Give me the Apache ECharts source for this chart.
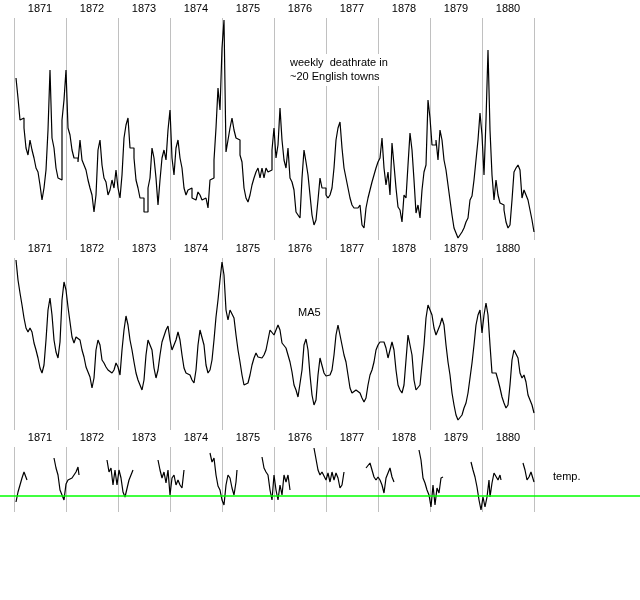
<!DOCTYPE html>
<html>
<head>
<meta charset="utf-8">
<script src="https://cdn.jsdelivr.net/npm/echarts@6/dist/echarts.min.js"></script>
<style>
	body{ margin: 0; background: #fff; }
	#chart_box{ width: 640px; height: 600px; }
</style>
</head>
<body>
<div id="chart_box"></div>
<script type="text/javascript">
var years = ['1871', '1872', '1873', '1874', '1875', '1876', '1877', '1878', '1879', '1880'];

// weekly deathrate, one value every 2 weeks from week 2 of 1871
var deathrate = [
	33.2,31.2,29.0,29.2,28.2,26.2,25.5,27.0,26.0,25.2,24.2,23.8,22.5,21.0,22.2,24.0,28.0,34.0,27.2,26.2,24.2,23.2,23.0,29.0,31.0,34.0,
	28.2,27.5,26.0,25.2,25.2,24.8,27.0,25.0,24.5,24.0,23.0,22.2,21.5,19.8,21.5,26.0,27.0,24.5,23.2,22.8,21.5,22.0,23.0,22.2,24.0,22.2,
	21.2,23.5,27.2,28.5,29.2,26.2,26.2,25.2,23.0,22.2,21.2,21.2,19.8,19.8,22.2,23.2,26.2,25.2,23.2,20.5,23.0,25.2,26.0,25.0,28.0,30.0,
	25.2,23.5,26.2,27.0,25.2,24.2,22.2,21.5,22.0,22.2,21.2,21.0,
	21.0,21.8,21.5,21.0,21.2,21.0,20.2,23.0,23.2,25.0,28.2,32.2,30.0,36.2,39.0,25.8,27.0,28.2,29.2,28.0,
	27.2,27.0,25.5,24.8,22.2,21.2,20.8,21.5,22.5,23.2,23.8,24.2,23.2,24.2,23.2,24.2,23.8,24.0,26.0,28.2,
	25.2,26.5,30.2,27.0,25.0,24.2,26.2,23.2,22.8,22.0,19.8,19.5,19.2,23.2,26.0,24.8,23.5,21.5,19.5,18.5,
	19.0,21.0,23.2,22.2,22.2,21.5,21.2,21.5,22.2,24.2,27.0,28.2,28.8,26.2,24.2,23.2,22.2,21.2,20.5,20.2,
	20.2,20.2,20.5,18.5,18.2,20.2,21.2,22.0,22.8,23.5,24.2,24.8,25.2,27.2,24.2,22.5,
	23.8,21.5,26.7,24.5,22.2,20.3,20.0,18.8,21.5,21.2,24.5,27.7,26.0,23.0,19.7,20.5,19.2,22.0,23.8,24.5,
	31.0,29.2,26.5,26.5,27.0,25.0,28.0,27.0,25.0,24.0,22.5,21.0,19.5,18.2,17.7,17.2,17.5,17.8,18.2,18.8,
	19.2,21.0,21.4,23.0,25.0,27.0,29.7,27.5,23.5,29.0,36.0,28.0,23.5,21.0,23.0,21.5,20.7,20.5,20.0,18.8,
	18.2,18.5,21.0,23.8,24.2,24.5,24.0,21.2,22.0,21.5,21.0,20.0,19.0,17.8
];

// 5-week moving average, same sampling
var ma5 = [
	39.5,37.5,36.2,35.0,33.7,32.7,32.3,32.7,32.3,31.2,30.5,29.7,28.7,28.2,29.0,31.5,34.5,35.7,34.0,31.5,30.3,29.7,31.3,35.5,37.3,36.5,
	34.8,33.3,31.8,31.2,31.8,31.8,31.5,30.5,29.8,28.8,28.3,27.8,26.7,27.7,30.5,31.5,31.0,29.5,29.2,28.8,28.5,28.3,28.2,28.5,29.2,28.8,
	28.0,30.5,32.5,33.9,33.0,31.5,30.5,29.3,28.2,27.5,27.0,26.5,27.5,30.0,31.5,31.5,30.5,28.7,27.7,28.5,30.0,31.3,31.5,32.5,32.9,31.5,
	30.5,30.3,31.5,32.3,31.5,30.0,28.7,28.2,28.2,28.0,27.5,27.2,
	28.5,31.0,32.5,32.5,31.0,29.0,28.2,28.5,29.5,31.5,33.8,35.5,37.5,39.3,38.0,34.5,33.5,34.5,34.7,33.7,
	32.0,30.5,29.3,28.0,27.0,27.0,27.2,28.0,29.0,29.7,30.2,29.8,29.9,29.7,30.0,30.5,31.5,32.5,32.7,32.0,
	32.0,33.0,32.5,31.2,31.0,30.7,30.0,29.3,28.3,27.0,26.5,25.8,26.0,28.5,31.0,31.6,30.5,28.0,26.0,25.0,
	25.5,28.0,29.7,29.5,28.2,27.9,27.8,28.0,28.5,30.0,32.0,33.0,33.0,31.0,30.0,29.3,28.0,26.7,26.2,26.3,
	26.5,26.5,26.2,25.7,25.3,25.7,27.0,28.0,28.5,29.3,30.5,31.0,31.3,31.5,31.3,30.7,29.7,30.5,31.3,30.5,
	28.5,27.0,26.5,26.2,27.0,29.5,32.0,32.0,30.0,27.5,26.5,26.7,27.0,29.0,31.0,33.7,35.0,35.0,34.0,32.7,
	32.0,32.2,33.0,33.7,33.0,31.0,29.3,28.0,26.2,25.0,24.0,23.5,23.5,24.0,24.7,25.2,26.2,27.7,29.2,31.0,
	33.0,34.0,34.5,32.2,34.0,35.2,34.0,31.0,28.2,28.0,28.2,27.5,26.7,25.8,25.2,24.7,25.0,27.0,29.5,30.5,
	30.5,29.7,28.2,27.7,28.0,27.3,26.0,25.5,25.0,24.2
];

// winter temperatures (weeks since start of 1871), null = no reading
var tempWeeks = [
	2,4,6,8,10,12,13,null,
	40,42,44,46,48,50,52,54,56,58,60,62,64,65,null,
	93,95,97,99,101,103,105,107,109,111,113,115,117,119,null,
	144,146,148,150,152,154,156,158,160,162,164,166,168,170,null,
	196,198,200,202,204,206,208,210,212,214,216,218,220,222,223,null,
	248,250,252,254,256,258,260,262,264,266,268,270,272,274,276,null,
	300,302,304,306,308,310,312,314,316,318,320,322,324,326,328,330,null,
	352,354,356,358,360,362,364,366,368,370,372,374,376,378,380,null,
	405,407,409,411,413,415,417,419,421,423,425,427,429,null,
	457,459,461,463,465,467,469,471,473,475,476,478,480,482,484,486,487,null,
	509,511,513,515,517,519,520
];
var tempValues = [
	-1.2,0.8,2.2,3.6,4.8,5.2,3.2,null,
	7.6,5.6,4.2,1.2,0.2,-0.8,2.4,3.2,3.0,3.6,4.2,4.8,5.8,4.2,null,
	7.2,4.8,5.6,2.2,5.2,2.2,5.2,3.6,0.8,-0.2,0.2,3.2,4.2,5.2,null,
	7.2,5.2,3.6,4.8,2.6,5.2,0.2,3.6,4.2,2.2,3.2,2.2,1.6,5.2,null,
	8.6,6.8,7.6,4.2,2.0,1.2,-0.8,-1.8,2.2,4.2,3.6,1.6,0.2,2.8,5.2,null,
	7.8,5.6,4.8,4.2,1.2,-0.8,4.2,1.2,-0.8,2.2,0.2,4.2,2.8,4.2,1.2,null,
	9.6,9.2,5.2,4.2,4.8,5.2,3.2,4.6,2.8,4.8,3.2,4.6,3.6,1.6,2.2,4.8,null,
	5.6,5.2,6.6,6.6,3.8,3.2,3.8,3.2,2.2,0.6,3.6,4.6,5.6,3.8,2.8,null,
	9.2,7.2,3.6,2.6,1.2,0.2,-2.2,2.2,-1.8,1.6,0.6,3.6,3.8,null,
	6.8,5.2,3.8,1.8,-0.8,-2.8,-0.2,-2.2,-0.2,3.2,-0.2,2.6,4.6,4.8,3.2,4.2,3.2,null,
	6.6,5.2,3.2,3.8,4.8,4.8,2.8
];

function pairs(values) {
	return values.map(function(v, i) { return [2 * (i + 1), v]; });
}
var tempData = tempWeeks.map(function(w, i) {
	return w === null ? [null, null] : [w, tempValues[i]];
});

var font = 'Liberation Sans, Arial, sans-serif';
var panels = [
	{ top: 18, height: 222, min: 17, max: 39.2 },
	{ top: 258, height: 172, min: 22.5, max: 39.7 },
	{ top: 447, height: 65, min: -3.2, max: 9.8 }
];

var grid = [], xAxis = [], yAxis = [];
panels.forEach(function(p, k) {
	grid.push({ left: 14, width: 520, top: p.top, height: p.height });
	xAxis.push({
		type: 'category', gridIndex: k, data: years, position: 'top',
		boundaryGap: true,
		axisLine: { show: false }, axisTick: { show: false },
		axisLabel: { color: '#000', fontFamily: font, fontSize: 11, margin: 4 },
		splitLine: { show: true, interval: 0, lineStyle: { color: '#c0c0c0', width: 1 } }
	});
	xAxis.push({ type: 'value', gridIndex: k, min: 0, max: 520, show: false });
	yAxis.push({ type: 'value', gridIndex: k, min: p.min, max: p.max, show: false });
});
// full-width strip for the zero line of temperature
grid.push({ left: 0, right: 0, top: 447, height: 65 });
xAxis.push({ type: 'value', gridIndex: 3, min: 0, max: 1, show: false });
yAxis.push({ type: 'value', gridIndex: 3, min: -3.2, max: 9.8, show: false });

var lineStyle = { color: '#000', width: 1.2 };
var option = {
	animation: false,
	grid: grid,
	xAxis: xAxis,
	yAxis: yAxis,
	series: [
		{ type: 'line', xAxisIndex: 1, yAxisIndex: 0, data: pairs(deathrate), step: 'end',
			showSymbol: false, lineStyle: lineStyle },
		{ type: 'line', xAxisIndex: 3, yAxisIndex: 1, data: pairs(ma5),
			showSymbol: false, lineStyle: lineStyle },
		{ type: 'line', xAxisIndex: 5, yAxisIndex: 2, data: tempData, connectNulls: false,
			showSymbol: false, lineStyle: lineStyle },
		{ type: 'line', xAxisIndex: 6, yAxisIndex: 3, data: [],
			markLine: { silent: true, symbol: 'none', label: { show: false },
				lineStyle: { color: '#00ff00', width: 1.5, type: 'solid' },
				data: [{ yAxis: 0 }] } }
	],
	graphic: [
		{ type: 'text', left: 288, top: 54, z: 100, style: { text: 'weekly  deathrate in\n~20 English towns',
			font: '11px ' + font, fill: '#000', lineHeight: 14, backgroundColor: '#fff', padding: [2, 2] } },
		{ type: 'text', left: 298, top: 307, style: { text: 'MA5', font: '11px ' + font, fill: '#000' } },
		{ type: 'text', left: 553, top: 471, style: { text: 'temp.', font: '11px ' + font, fill: '#000' } }
	]
};

var myChart = echarts.init(document.getElementById('chart_box'));
myChart.setOption(option);
</script>
</body>
</html>
